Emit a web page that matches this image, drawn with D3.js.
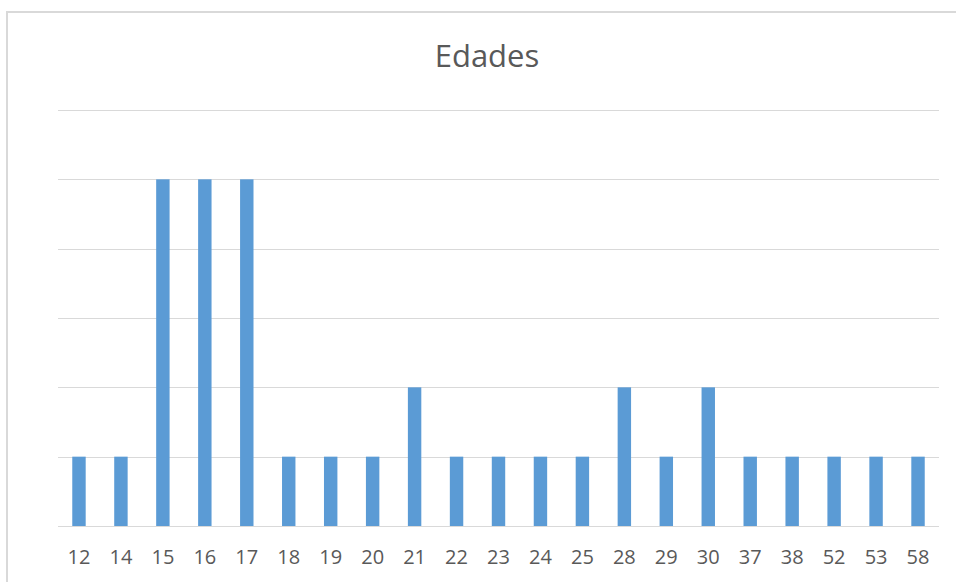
<!DOCTYPE html>
<html><head><meta charset="utf-8">
<script src="https://cdn.jsdelivr.net/npm/d3@7"></script>
<style>body{margin:0;background:#fff}svg{display:block}</style>
</head><body>
<svg id="c" width="956" height="582"></svg>
<script>
const categories = ["12","14","15","16","17","18","19","20","21","22","23","24","25","28","29","30","37","38","52","53","58"];
const values = [1,1,5,5,5,1,1,1,2,1,1,1,1,2,1,2,1,1,1,1,1];
const yTicks = [0,1,2,3,4,5,6];
const title = "Edades";

const svg = d3.select("#c");
const W = 956, H = 582;
const m = {left:58, right:17, top:110, bottom:56};

svg.append("rect").attr("x",7).attr("y",12).attr("width",W).attr("height",H)
  .attr("fill","#fff").attr("stroke","#d9d9d9").attr("stroke-width",2);

const x = d3.scaleBand().domain(categories).range([m.left, W-m.right]).paddingInner(0.68).paddingOuter(0.34);
const y = d3.scaleLinear().domain([0,6]).range([H-m.bottom, m.top]);

svg.append("g").selectAll("line").data(yTicks).join("line")
  .attr("x1",m.left).attr("x2",W-m.right)
  .attr("y1",d=>Math.round(y(d))+0.5).attr("y2",d=>Math.round(y(d))+0.5)
  .attr("stroke","#d9d9d9").attr("stroke-width",1);

svg.append("g").selectAll("rect").data(values).join("rect")
  .attr("x",(d,i)=>x(categories[i])).attr("width",x.bandwidth())
  .attr("y",d=>y(d)).attr("height",d=>y(0)-y(d))
  .attr("fill","#5b9bd5");

const xAxis = d3.axisBottom(x).tickSize(0).tickPadding(0);
const gx = svg.append("g").attr("transform",`translate(0,${y(0)})`).call(xAxis);
gx.select(".domain").remove();
gx.selectAll("text").attr("dy",null).attr("y",38)
  .attr("font-family","Open Sans").attr("font-size",20).attr("fill","#595959");

svg.append("text").attr("x",487).attr("y",67).attr("text-anchor","middle")
  .attr("font-family","Open Sans").attr("font-size",31).attr("fill","#595959").text(title);
</script>
</body></html>
